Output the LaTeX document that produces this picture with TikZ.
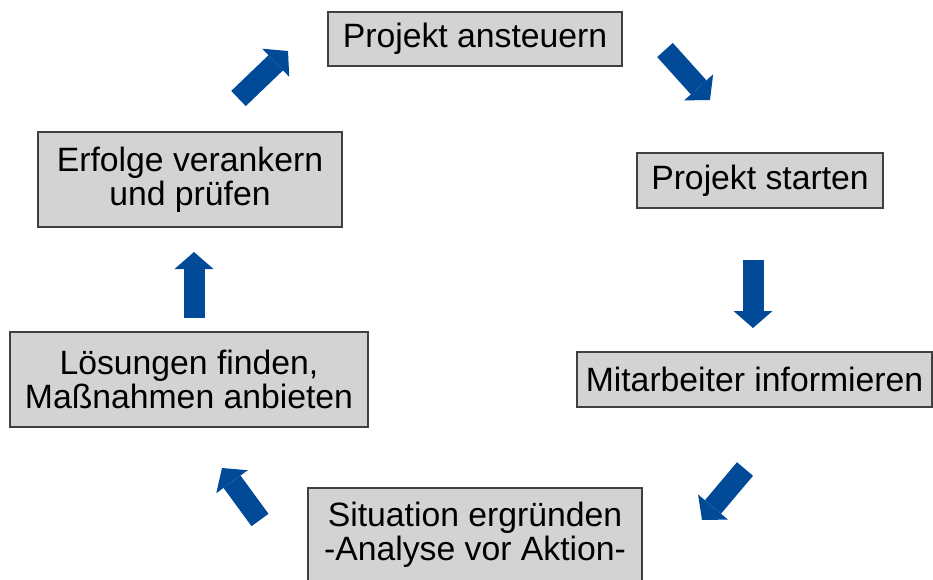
\documentclass[tikz,border=0pt]{standalone}
\usepackage{fontspec}
\setmainfont{Liberation Sans}
\usetikzlibrary{arrows.meta}
\definecolor{boxgray}{RGB}{211,211,211}
\definecolor{boxline}{RGB}{64,64,64}
\definecolor{flowblue}{RGB}{0,74,152}

\begin{document}
\begin{tikzpicture}[x=0.02cm, y=-0.02cm,
  box/.style={draw=boxline, fill=boxgray, line width=0.85pt, inner sep=0pt,
    align=center, font=\fontsize{19.2}{19.5}\selectfont},
  flow/.style={draw=flowblue, line width=0.42cm,
    -{Triangle[width=0.78cm, length=0.34cm, line width=0pt]}}]
\clip (0,0) rectangle (933,579);

\node (b1) [box, minimum width=5.88cm, minimum height=1.08cm] at (475,39) {Projekt ansteuern};
\node (b2) [box, minimum width=4.92cm, minimum height=1.1cm] at (760,180.5) {Projekt starten};
\node (b3) [box, minimum width=7.1cm, minimum height=1.1cm] at (754.5,379.5) {Mitarbeiter informieren};
\node (b4) [box, minimum width=6.68cm, minimum height=1.88cm] at (475,535) {Situation ergründen\\-Analyse vor Aktion-};
\node (b5) [box, minimum width=7.16cm, minimum height=1.9cm] at (189,379.5) {Lösungen finden,\\Maßnahmen anbieten};
\node (b6) [box, minimum width=6.08cm, minimum height=1.9cm] at (190,179.5) {Erfolge verankern\\und prüfen};

\coordinate (t1) at (238.5,98.5);
\coordinate (h1) at (288,51);
\coordinate (t2) at (665,50);
\coordinate (h2) at (710,100);
\coordinate (t3) at (753,260);
\coordinate (h3) at (753,328);
\coordinate (t4) at (745,469);
\coordinate (h4) at (702,520);
\coordinate (t5) at (260,520);
\coordinate (h5) at (222,468);
\coordinate (t6) at (194,318);
\coordinate (h6) at (194,252);

\draw[flow] (t1) -- (h1);
\draw[flow] (t2) -- (h2);
\draw[flow] (t3) -- (h3);
\draw[flow] (t4) -- (h4);
\draw[flow] (t5) -- (h5);
\draw[flow] (t6) -- (h6);

\end{tikzpicture}
\end{document}
